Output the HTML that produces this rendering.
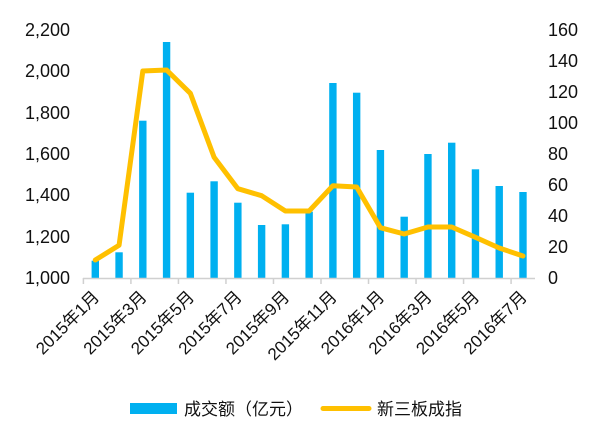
<!DOCTYPE html>
<html><head><meta charset="utf-8"><style>
html,body{margin:0;padding:0;background:#fff;}
svg{display:block;font-family:"Liberation Sans","Noto Sans CJK SC",sans-serif;}
</style></head><body>
<svg width="600" height="445" viewBox="0 0 600 445" xmlns="http://www.w3.org/2000/svg">
<g font-size="18" fill="#111">
<text x="70" y="36" text-anchor="end">2,200</text>
<text x="70" y="77" text-anchor="end">2,000</text>
<text x="70" y="119" text-anchor="end">1,800</text>
<text x="70" y="160" text-anchor="end">1,600</text>
<text x="70" y="201" text-anchor="end">1,400</text>
<text x="70" y="243" text-anchor="end">1,200</text>
<text x="70" y="284" text-anchor="end">1,000</text>
<text x="548" y="36">160</text>
<text x="548" y="67">140</text>
<text x="548" y="98">120</text>
<text x="548" y="129">100</text>
<text x="548" y="160">80</text>
<text x="548" y="191">60</text>
<text x="548" y="222">40</text>
<text x="548" y="253">20</text>
<text x="548" y="284">0</text>
</g>
<g fill="#00b0f0" id="bars"></g>
<line x1="83" y1="278.5" x2="535" y2="278.5" stroke="#d0d0d0" stroke-width="1.5"/>
<g stroke="#d0d0d0" stroke-width="1.5" id="ticks"></g>
<polyline id="ln" fill="none" stroke="#ffc000" stroke-width="5" stroke-linejoin="round" stroke-linecap="round"/>
<g font-size="17" fill="#111" id="xl"></g>
<rect x="130" y="403" width="47" height="11" fill="#00b0f0"/>
<text x="184" y="415" font-size="17" fill="#111">成交额（亿元）</text>
<line x1="323" y1="408.5" x2="369" y2="408.5" stroke="#ffc000" stroke-width="5" stroke-linecap="round"/>
<text x="377" y="415" font-size="17" fill="#111">新三板成指</text>
<script>
var ns="http://www.w3.org/2000/svg";
var tops=[260.7,252.3,120.7,42,192.7,181.3,202.7,225,224.3,211.7,83,92.7,150,216.7,154,142.7,169.3,186,192];
var ly=[260,245.3,71,70,93.3,157.3,188.7,195.7,211,211,185.7,187,227.7,234,227,227,237.3,248,256];
var b=document.getElementById('bars'),pts=[];
for(var i=0;i<19;i++){var cx=95.3+i*23.76;
var r=document.createElementNS(ns,'rect');r.setAttribute('x',cx-3.7);r.setAttribute('y',tops[i]);r.setAttribute('width',7.4);r.setAttribute('height',278-tops[i]);b.appendChild(r);
pts.push(cx+','+ly[i]);}
document.getElementById('ln').setAttribute('points',pts.join(' '));
var t=document.getElementById('ticks');
for(var k=0;k<=9;k++){var x=83.4+k*2*23.76;var l=document.createElementNS(ns,'line');l.setAttribute('x1',x);l.setAttribute('x2',x);l.setAttribute('y1',278);l.setAttribute('y2',284);t.appendChild(l);}
var labs=["2015年1月","2015年3月","2015年5月","2015年7月","2015年9月","2015年11月","2016年1月","2016年3月","2016年5月","2016年7月"];
var xl=document.getElementById('xl');
for(var k=0;k<10;k++){var cx=95.3+k*2*23.76+5,y=298;var tx=document.createElementNS(ns,'text');tx.setAttribute('x',cx);tx.setAttribute('y',y);tx.setAttribute('text-anchor','end');tx.setAttribute('transform','rotate(-45 '+cx+' '+y+')');tx.textContent=labs[k];xl.appendChild(tx);}
</script>
</svg>
</body></html>
